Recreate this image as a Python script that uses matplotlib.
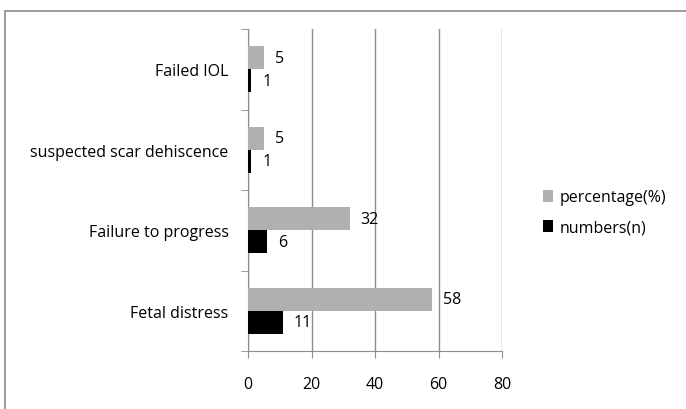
import numpy as np
import matplotlib
matplotlib.use("Agg")
import matplotlib.pyplot as plt
from matplotlib.patches import Rectangle

categories = ["Fetal distress", "Failure to progress", "suspected scar dehiscence", "Failed IOL"]
percentage = [58, 32, 5, 5]
numbers = [11, 6, 1, 1]
xticks = [0, 20, 40, 60, 80]

plt.rcParams["font.family"] = ["Open Sans", "DejaVu Sans"]
fs = 11.5

fig = plt.figure(figsize=(6.86, 4.10), dpi=100)
# outer chart frame like the Excel export (right and bottom edges cut off)
fig.patches.append(Rectangle((5 / 686, -0.05), 1.0, 1 - 12 / 410 + 0.05,
                             transform=fig.transFigure, fill=False,
                             edgecolor="#8c8c8c", linewidth=1.2))

ax = fig.add_axes([248 / 686, 1 - 352 / 410, (502 - 248) / 686, (352 - 30) / 410])

y = np.arange(len(categories))
h = 1 / 3.5
gray = "#b0b0b0"
ax.barh(y + h / 2, percentage, height=h, color=gray, label="percentage(%)", zorder=3)
ax.barh(y - h / 2, numbers, height=h, color="black", label="numbers(n)", zorder=3)

for i in range(len(categories)):
    ax.annotate(str(percentage[i]), (percentage[i], y[i] + h / 2), xytext=(8, 0),
                textcoords="offset points", va="center", ha="left", fontsize=fs)
    ax.annotate(str(numbers[i]), (numbers[i], y[i] - h / 2), xytext=(8, 0),
                textcoords="offset points", va="center", ha="left", fontsize=fs)

ax.set_xlim(0, 80)
ax.set_ylim(-0.5, len(categories) - 0.5)
ax.set_xticks(xticks)
ax.set_yticks(y)
ax.set_yticklabels(categories, fontsize=fs)
ax.set_yticks(np.arange(len(categories) + 1) - 0.5, minor=True)
ax.tick_params(axis="y", which="major", length=0, pad=14)
ax.tick_params(axis="y", which="minor", length=5, color="#8c8c8c")
ax.tick_params(axis="x", length=5, color="#8c8c8c", pad=13, labelsize=fs)

ax.grid(axis="x", color="#8c8c8c", linewidth=1, zorder=0)
for s in ["top", "right"]:
    ax.spines[s].set_visible(False)
for s in ["left", "bottom"]:
    ax.spines[s].set_color("#8c8c8c")

ax.legend(loc="center left", bbox_to_anchor=(1.105, 0.43), frameon=False,
          fontsize=fs, handlelength=0.6, handleheight=0.8, handletextpad=0.45,
          labelspacing=0.9)

fig.savefig("out.png", dpi=100)
